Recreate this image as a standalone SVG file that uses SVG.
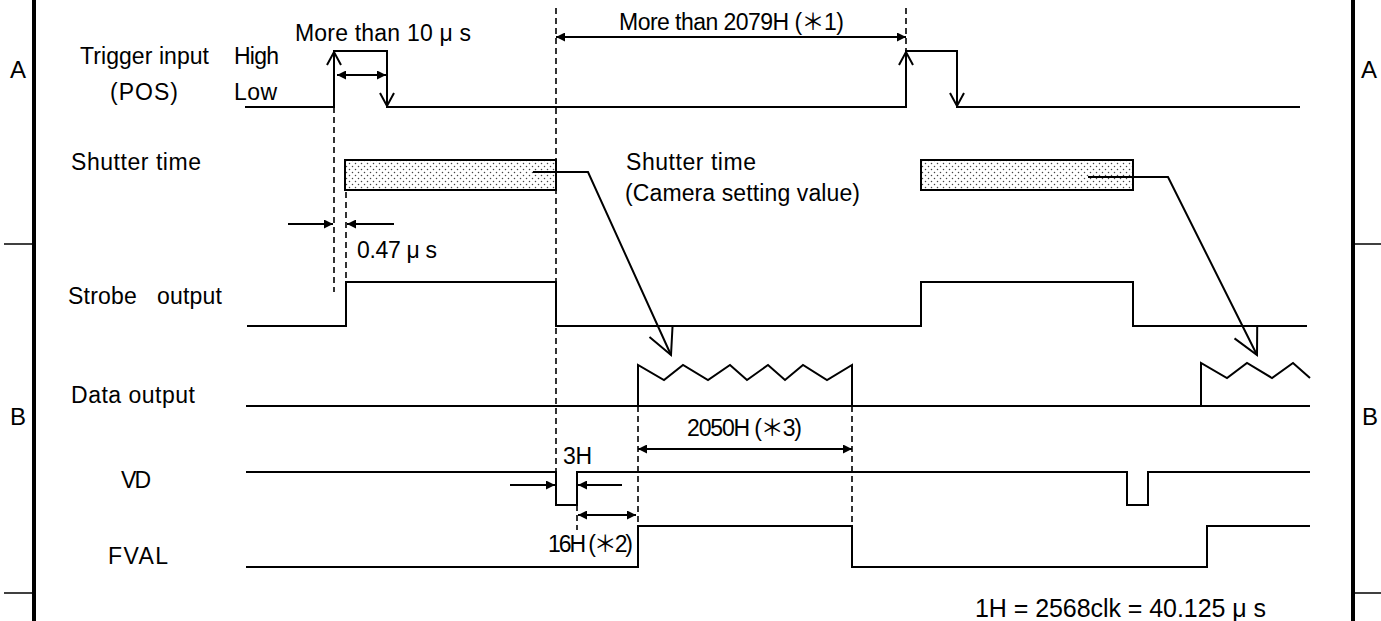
<svg xmlns="http://www.w3.org/2000/svg" width="1381" height="621" viewBox="0 0 1381 621">
<style>
.t{font-family:"Liberation Sans","Noto Sans CJK JP",Arial,sans-serif;font-size:23px;fill:#000}
.big{font-size:24px}
.note{font-size:25px}
.sig{fill:none;stroke:#000;stroke-width:2}
.frm{fill:none;stroke:#000;stroke-width:4}
.tick{fill:none;stroke:#000;stroke-width:1.5}
.dash{fill:none;stroke:#000;stroke-width:1.6;stroke-dasharray:6 4}
.dim{fill:none;stroke:#000;stroke-width:2}
.dim2{fill:none;stroke:#000;stroke-width:2;marker-start:url(#ah);marker-end:url(#ah)}
.dim1{fill:none;stroke:#000;stroke-width:2;marker-end:url(#ah)}
.open{fill:none;stroke:#000;stroke-width:2;stroke-linejoin:miter}
.box{fill:url(#dots);stroke:#000;stroke-width:2}
</style>
<defs>
<marker id="ah" viewBox="0 0 10 10" refX="10" refY="5" markerWidth="10" markerHeight="9" markerUnits="userSpaceOnUse" orient="auto-start-reverse">
<path d="M0,0 L10,5 L0,10 z" fill="#000"/>
</marker>
<pattern id="dots" width="6" height="6" patternUnits="userSpaceOnUse">
<rect width="6" height="6" fill="#fff"/>
<circle cx="1.5" cy="1.5" r="0.75" fill="#444"/>
<circle cx="4.5" cy="4.5" r="0.75" fill="#444"/>
</pattern>
</defs>
<rect width="1381" height="621" fill="#fff"/>

<g id="frame">
<line class="frm" x1="34" y1="0" x2="34" y2="621"/>
<line class="frm" x1="1353" y1="0" x2="1353" y2="621"/>
<line class="tick" x1="4" y1="244" x2="34" y2="244"/>
<line class="tick" x1="4" y1="593" x2="34" y2="593"/>
<line class="tick" x1="1353" y1="244" x2="1381" y2="244"/>
<line class="tick" x1="1353" y1="593" x2="1381" y2="593"/>
<text class="t big" x="10" y="78">A</text>
<text class="t big" x="10" y="425">B</text>
<text class="t big" x="1361" y="78">A</text>
<text class="t big" x="1362" y="425">B</text>
</g>

<g id="trigger">
<text class="t" x="80" y="64" textLength="129">Trigger input</text>
<text class="t" x="110" y="100" textLength="68">(POS)</text>
<text class="t" x="234" y="64" textLength="45">High</text>
<text class="t" x="234" y="100" textLength="43">Low</text>
<path class="sig" d="M245,107 H334 V51 H387 V107 H906 V51 H957 V107 H1300"/>
<polyline class="open" points="327,65 334,52 341,65"/>
<polyline class="open" points="380,93 387,106 394,93"/>
<polyline class="open" points="899,65 906,52 913,65"/>
<polyline class="open" points="950,93 957,106 964,93"/>
</g>

<g id="shutter">
<text class="t" x="71" y="170" textLength="130">Shutter time</text>
<rect class="box" x="345" y="160" width="211" height="30"/>
<rect class="box" x="921" y="160" width="212" height="30"/>
<text class="t" x="626" y="170" textLength="130">Shutter time</text>
<text class="t" x="625" y="201" textLength="235">(Camera setting value)</text>
</g>

<g id="strobe">
<text class="t" x="68" y="304" textLength="154">Strobe&#160;&#160; output</text>
<path class="sig" d="M247,326 H346 V282 H556 V326 H921 V282 H1133 V326 H1307"/>
</g>

<g id="data">
<text class="t" x="71" y="403" textLength="124">Data output</text>
<path class="sig" d="M246,406 H1310"/>
<path class="sig" d="M638,406 V365 L664,380 L683,365 L708,380 L730,365 L747,380 L768,365 L785,380 L803,365 L827,380 L852,365 V406"/>
<path class="sig" d="M1201,406 V363 L1227,378 L1247,363 L1272,378 L1293,363 L1310,378"/>
</g>

<g id="vd">
<text class="t" x="121" y="488" textLength="30">VD</text>
<path class="sig" d="M246,472 H556 V505 H577 V472 H1127 V505 H1148 V472 H1310"/>
</g>

<g id="fval">
<text class="t" x="108" y="564" textLength="60">FVAL</text>
<path class="sig" d="M246,567 H638 V526 H852 V567 H1207 V526 H1310"/>
</g>

<g id="connectors">
<line class="dash" x1="334" y1="107" x2="334" y2="292"/>
<line class="dash" x1="346" y1="192" x2="346" y2="282"/>
<line class="dash" x1="556" y1="8" x2="556" y2="472"/>
<line class="dash" x1="906" y1="8" x2="906" y2="50"/>
<line class="dash" x1="638" y1="406" x2="638" y2="526"/>
<line class="dash" x1="852" y1="406" x2="852" y2="526"/>
<line class="dash" x1="577" y1="505" x2="577" y2="530"/>

<line class="dim2" x1="337" y1="75" x2="386" y2="75"/>
<line class="dim2" x1="556" y1="37" x2="906" y2="37"/>
<line class="dim1" x1="288" y1="224" x2="333" y2="224"/>
<line class="dim1" x1="394" y1="224" x2="347" y2="224"/>
<line class="dim2" x1="638" y1="449" x2="852" y2="449"/>
<line class="dim1" x1="510" y1="485" x2="555" y2="485"/>
<line class="dim1" x1="622" y1="485" x2="578" y2="485"/>
<line class="dim2" x1="578" y1="515" x2="636" y2="515"/>

<polyline class="dim" points="533,172 588,172 671,355"/>
<polyline class="open" points="649.5,337 671,355 672.5,327"/>
<polyline class="dim" points="1088,177 1168,177 1257,355"/>
<polyline class="open" points="1234.5,338.4 1257,355 1257.2,327"/>
</g>

<g id="labels">
<text class="t" x="295" y="41" textLength="176">More than 10 μ s</text>
<text class="t" x="619" y="30" textLength="225">More than 2079H (＊1)</text>
<text class="t" x="357" y="258" textLength="80">0.47 μ s</text>
<text class="t" x="563" y="464" textLength="29">3H</text>
<text class="t" x="687" y="436" textLength="115">2050H (＊3)</text>
<text class="t" x="548" y="552" textLength="85">16H (＊2)</text>
<text class="t note" x="975" y="617" textLength="291">1H = 2568clk = 40.125 μ s</text>
</g>
</svg>
